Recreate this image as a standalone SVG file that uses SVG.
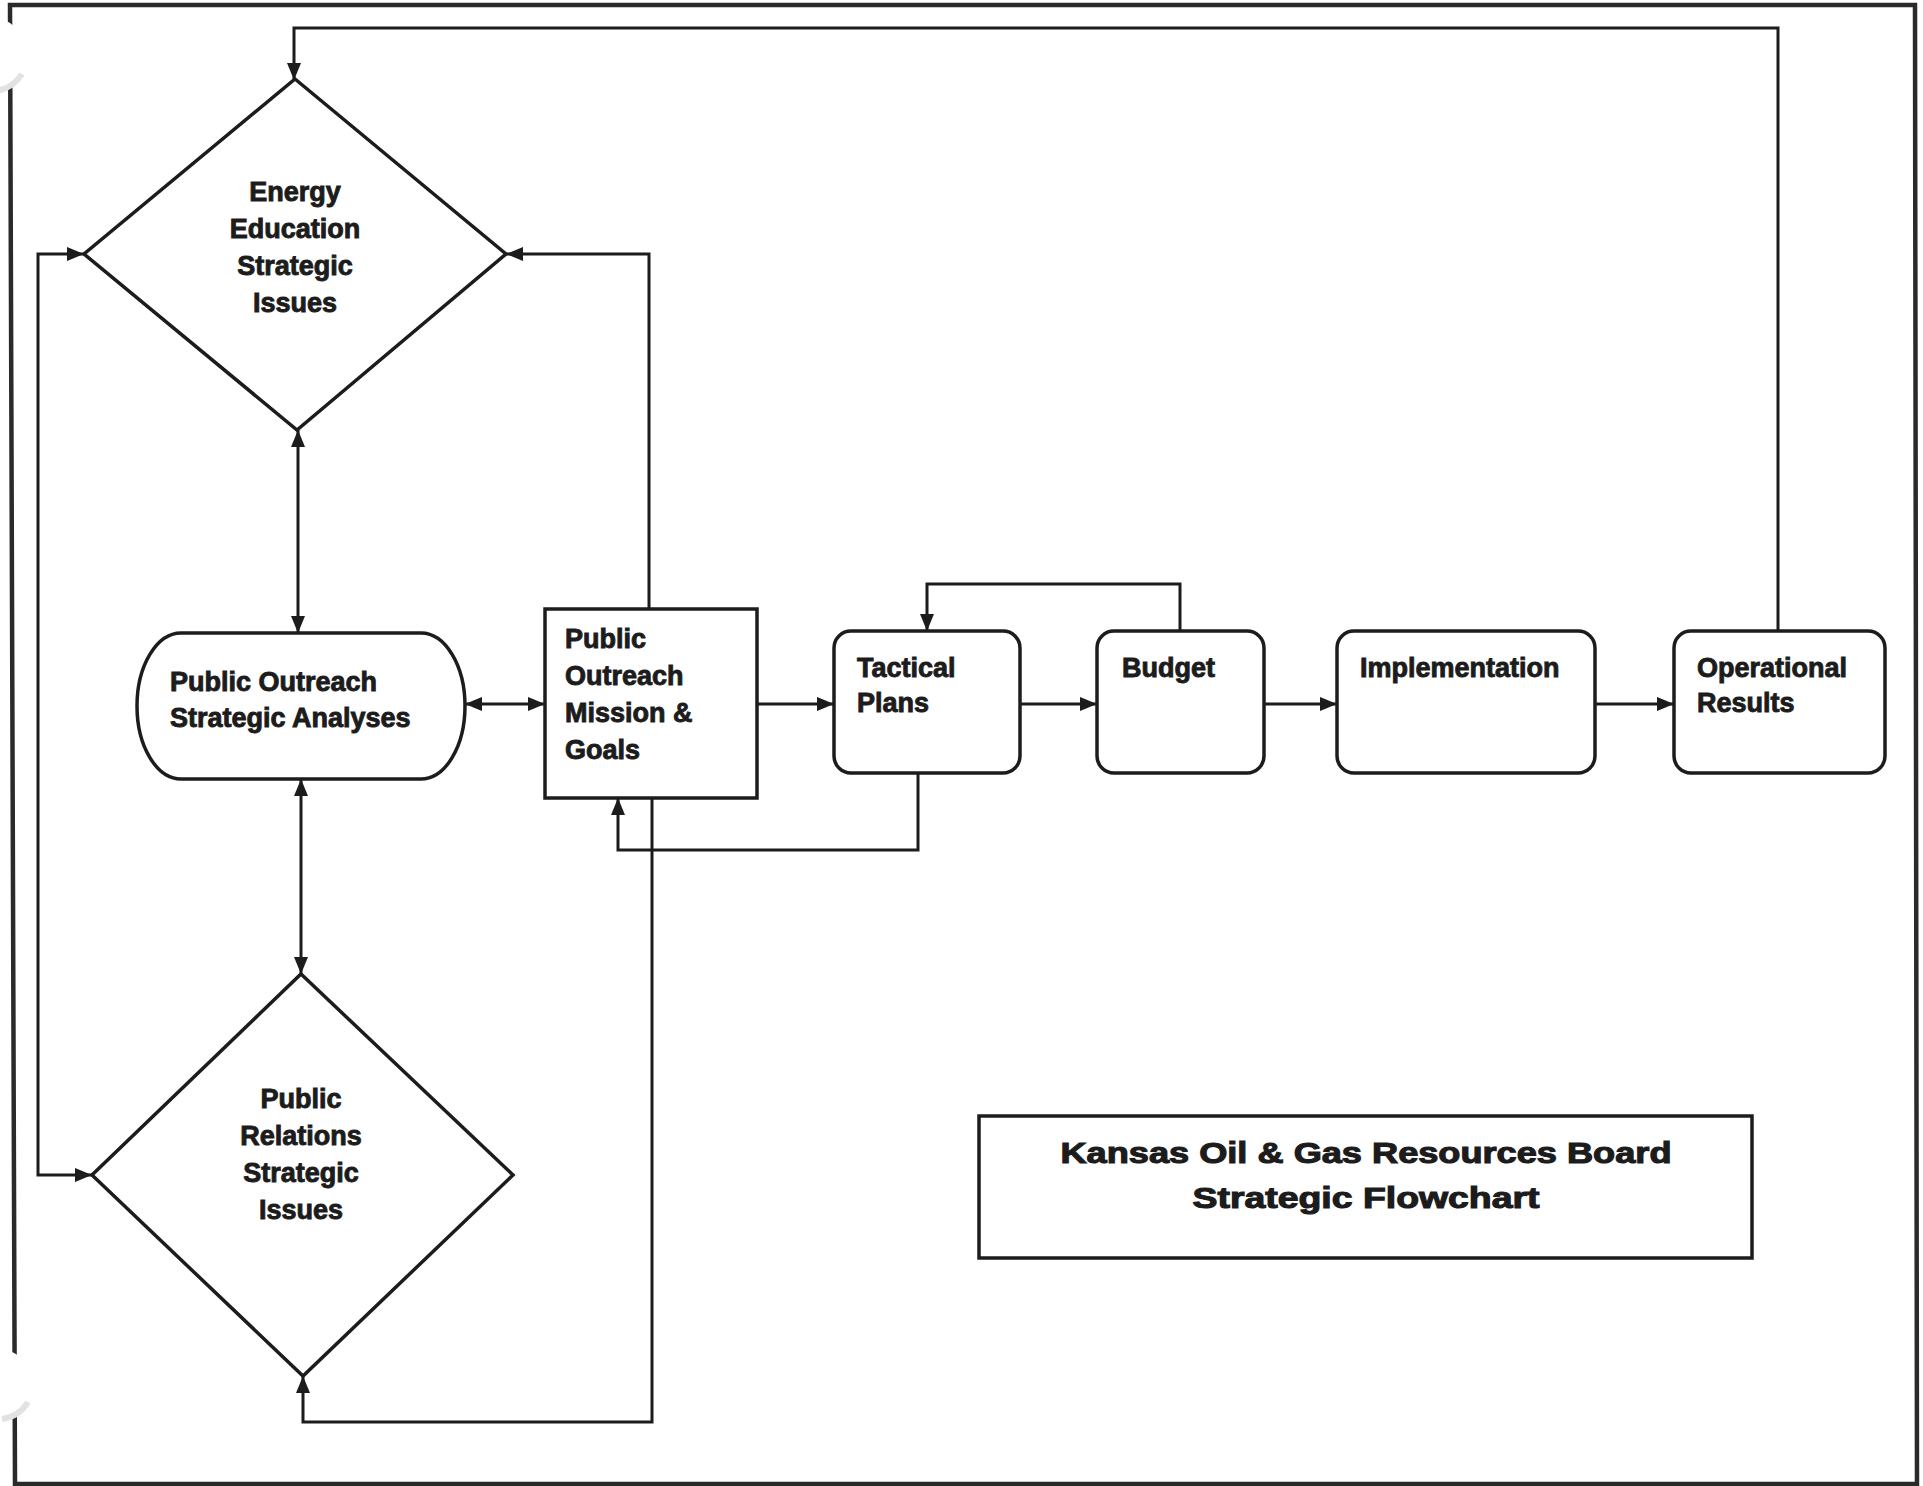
<svg xmlns="http://www.w3.org/2000/svg" width="1923" height="1486" viewBox="0 0 1923 1486">
<style>
.node{fill:#fff;stroke:#1c1c1c;stroke-width:3.5}
.conn{fill:none;stroke:#1c1c1c;stroke-width:3}
.lbl{font-family:"Liberation Sans",Arial,sans-serif;font-weight:bold;font-size:27px;fill:#1c1c1c;stroke:#1c1c1c;stroke-width:0.9}
.mid{text-anchor:middle}
.title{font-family:"Liberation Sans",Arial,sans-serif;font-weight:bold;font-size:29px;fill:#1c1c1c;stroke:#1c1c1c;stroke-width:1.1;text-anchor:middle}
</style>
<defs>
<marker id="ah" viewBox="0 0 17 14" refX="17" refY="7" markerWidth="17" markerHeight="14" markerUnits="userSpaceOnUse" orient="auto-start-reverse">
<path d="M0,0 L17,7 L0,14 z" fill="#1c1c1c"/>
</marker>
</defs>
<rect x="0" y="0" width="1923" height="1486" fill="#fff"/>
<!-- page frame -->
<path d="M10,5 L1915,5 L1917,1484 L15,1484 Z" fill="none" stroke="#2a2a2a" stroke-width="4.5"/>
<!-- binder holes -->
<circle cx="-12" cy="54" r="38" fill="#fff"/>
<path d="M22,74 A38,38 0 0 1 -4,91" fill="none" stroke="#e2e2e2" stroke-width="6"/>
<circle cx="-4" cy="1384" r="36" fill="#fff"/>
<path d="M28,1402 A36,36 0 0 1 2,1419" fill="none" stroke="#e2e2e2" stroke-width="6"/>

<g id="connectors">
<path class="conn" d="M1778,630 V28 H294 V80" marker-end="url(#ah)"/>
<path class="conn" d="M84,254 H38 V1175 H92" marker-start="url(#ah)" marker-end="url(#ah)"/>
<path class="conn" d="M649,609 V254 H506" marker-end="url(#ah)"/>
<path class="conn" d="M652,798 V1422 H303 V1376" marker-end="url(#ah)"/>
<path class="conn" d="M298,430 V633" marker-start="url(#ah)" marker-end="url(#ah)"/>
<path class="conn" d="M301,779 V974" marker-start="url(#ah)" marker-end="url(#ah)"/>
<path class="conn" d="M465,704 H545" marker-start="url(#ah)" marker-end="url(#ah)"/>
<path class="conn" d="M757,704 H834" marker-end="url(#ah)"/>
<path class="conn" d="M1020,704 H1097" marker-end="url(#ah)"/>
<path class="conn" d="M1264,704 H1337" marker-end="url(#ah)"/>
<path class="conn" d="M1595,704 H1674" marker-end="url(#ah)"/>
<path class="conn" d="M1180,631 V584 H927 V631" marker-end="url(#ah)"/>
<path class="conn" d="M918,773 V850 H618 V798" marker-end="url(#ah)"/>
</g>

<g id="energy-education">
<polygon class="node" points="295,79 506,254 297,430 84,254"/>
<text class="lbl mid" x="295" y="201">Energy</text>
<text class="lbl mid" x="295" y="238">Education</text>
<text class="lbl mid" x="295" y="275">Strategic</text>
<text class="lbl mid" x="295" y="312">Issues</text>
</g>

<g id="public-outreach-analyses">
<rect class="node" x="137" y="633" width="328" height="146" rx="44" ry="73"/>
<text class="lbl" x="170" y="691">Public Outreach</text>
<text class="lbl" x="170" y="727">Strategic Analyses</text>
</g>

<g id="mission-goals">
<rect class="node" x="545" y="609" width="212" height="189"/>
<text class="lbl" x="565" y="648">Public</text>
<text class="lbl" x="565" y="685">Outreach</text>
<text class="lbl" x="565" y="722">Mission &amp;</text>
<text class="lbl" x="565" y="759">Goals</text>
</g>

<g id="public-relations">
<polygon class="node" points="301,974 513,1175 303,1376 92,1175"/>
<text class="lbl mid" x="301" y="1108">Public</text>
<text class="lbl mid" x="301" y="1145">Relations</text>
<text class="lbl mid" x="301" y="1182">Strategic</text>
<text class="lbl mid" x="301" y="1219">Issues</text>
</g>

<g id="tactical-plans">
<rect class="node" x="834" y="631" width="186" height="142" rx="17"/>
<text class="lbl" x="857" y="677">Tactical</text>
<text class="lbl" x="857" y="712">Plans</text>
</g>

<g id="budget">
<rect class="node" x="1097" y="631" width="167" height="142" rx="17"/>
<text class="lbl" x="1122" y="677">Budget</text>
</g>

<g id="implementation">
<rect class="node" x="1337" y="631" width="258" height="142" rx="17"/>
<text class="lbl" x="1360" y="677">Implementation</text>
</g>

<g id="operational-results">
<rect class="node" x="1674" y="631" width="211" height="142" rx="17"/>
<text class="lbl" x="1697" y="677">Operational</text>
<text class="lbl" x="1697" y="712">Results</text>
</g>

<g id="title-box">
<rect class="node" x="979" y="1116" width="773" height="142"/>
<text class="title" x="1366" y="1163" textLength="611" lengthAdjust="spacingAndGlyphs">Kansas Oil &amp; Gas Resources Board</text>
<text class="title" x="1366" y="1208" textLength="347" lengthAdjust="spacingAndGlyphs">Strategic Flowchart</text>
</g>
</svg>
